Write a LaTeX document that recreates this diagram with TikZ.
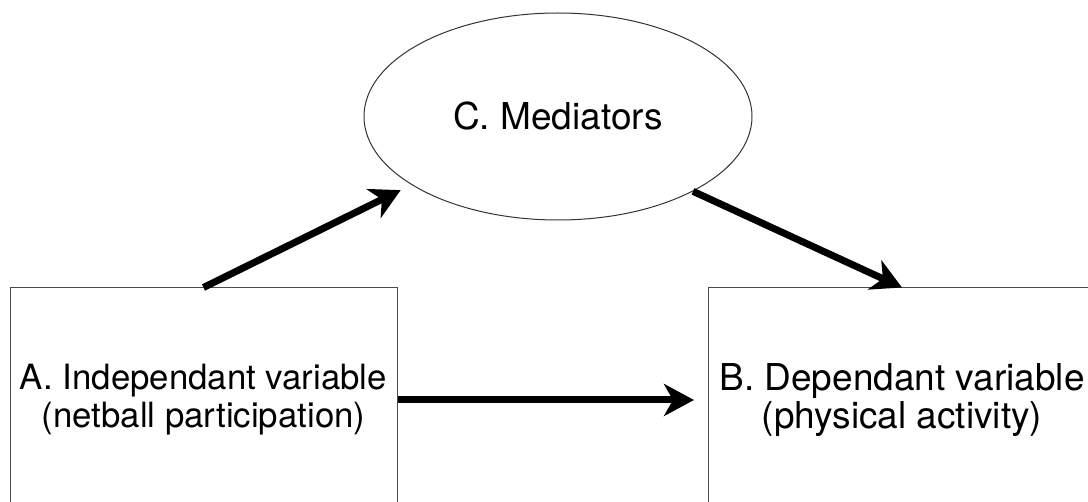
\documentclass[tikz,border=0pt]{standalone}
\usepackage{fontspec}
\setmainfont{TeX Gyre Heros}
\usetikzlibrary{shapes.geometric,arrows.meta}

\begin{document}
\begin{tikzpicture}[x=1pt,y=-1pt,
	varbox/.style={draw=black!70, line width=1pt, minimum width=387pt, minimum height=224pt,
		align=center, font=\fontsize{34.8}{38}\selectfont},
	medbubble/.style={ellipse, draw=black!80, line width=1pt, minimum width=388pt, minimum height=207pt,
		font=\fontsize{37}{44}\selectfont},
	effect/.style={line width=7pt, -{Stealth[length=30pt, width=32pt, inset=9pt]}}]
				\useasboundingbox (0,0) rectangle (1088,502);
				
				\node[varbox] (indep) at (203.5,400) {A. Independant variable\\(netball participation)};
				\node[varbox, font=\fontsize{37}{38}\selectfont] (dep) at (902,400) {B. Dependant variable\\(physical activity)};
				\node[medbubble] (med) at (558,116.5) {C. Mediators};
				
				\draw[effect, shorten >=12pt] (indep.north) -- (med.205.7);
				\draw[effect] (med.331) -- (dep.north);
				\draw[effect, shorten >=14pt] (indep.east) -- (dep.west);
			\end{tikzpicture}
\end{document}
